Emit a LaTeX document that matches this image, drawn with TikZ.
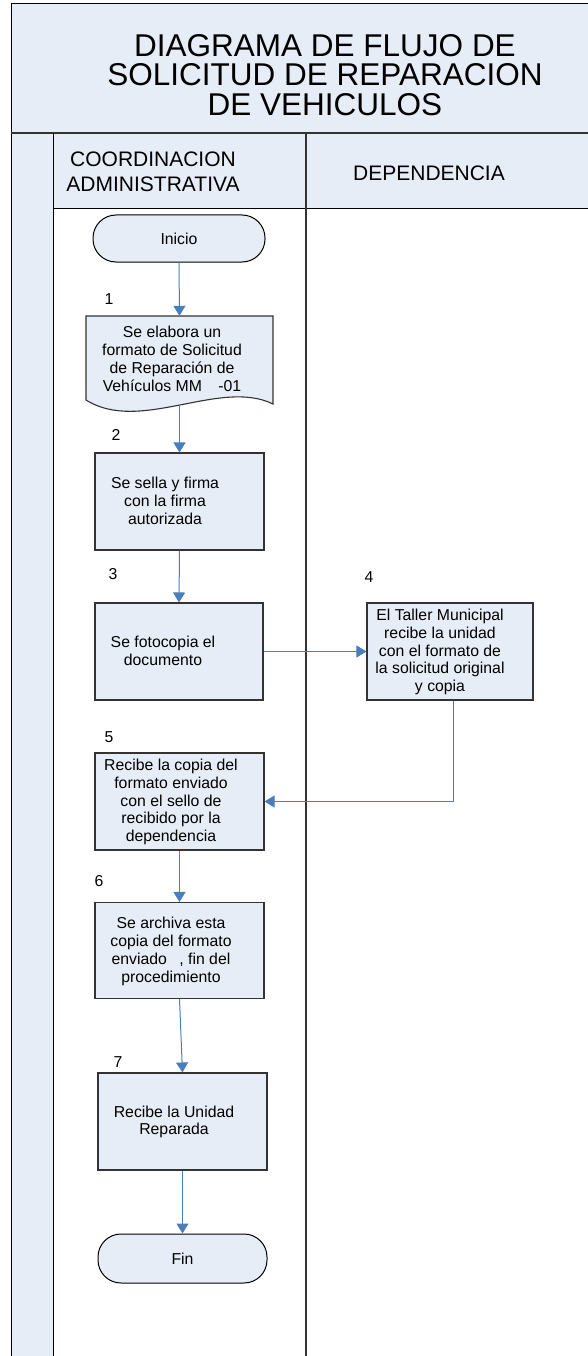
\documentclass[tikz,border=0pt]{standalone}
\usepackage{fontspec}
\setmainfont{Liberation Sans}
\usetikzlibrary{arrows.meta}
\definecolor{lb}{HTML}{E7EDF7}
\definecolor{ab}{HTML}{4A7EBB}
\definecolor{dg}{HTML}{333333}
\begin{document}
\begin{tikzpicture}[x=1pt,y=-1pt,
  proc/.style={draw=dg,line width=1.1pt,fill=lb,inner sep=0pt,minimum width=169pt,minimum height=97pt},
  term/.style={draw=black,line width=1pt,fill=lb,inner sep=0pt,rounded corners=23pt,font=\fontsize{15.8}{17.8}\selectfont},
  txt/.style={font=\fontsize{15.8}{17.8}\selectfont,align=center,inner sep=0pt},
  num/.style={font=\fontsize{15.8}{18}\selectfont,inner sep=0pt},
  hdr/.style={font=\fontsize{21}{25}\selectfont,align=center,inner sep=0pt},
  flow/.style={draw=ab,line width=1pt,-{Triangle[width=12pt,length=10pt]}}]
\useasboundingbox (0,0) rectangle (587,1356);
% background bands
\fill[lb] (11,4) rectangle (590,133);
\fill[lb] (11,133) rectangle (53,1360);
\fill[lb] (53,133) rectangle (590,209);
\draw[black,line width=1pt] (11,4) -- (590,4);
\draw[black,line width=1pt] (11,4) -- (11,1360);
\draw[dg,line width=2pt] (11,133) -- (590,133);
\draw[black,line width=1pt] (53,133) -- (53,1360);
\draw[black,line width=1pt] (53,209) -- (590,209);
\draw[dg,line width=1.6pt] (306,133) -- (306,1360);
% titles
\node[font=\fontsize{31.5}{29.5}\selectfont,align=center,inner sep=0pt] (title) at (325,75)
  {DIAGRAMA DE FLUJO DE\\SOLICITUD DE REPARACION\\DE VEHICULOS};
\node[hdr] (h1) at (153,172) {COORDINACION\\ADMINISTRATIVA};
\node[hdr] (h2) at (429,173) {DEPENDENCIA};
% shapes
\node[term,minimum width=172pt,minimum height=47pt] (ini) at (179,238.5) {Inicio};
\draw[dg,line width=1.1pt,fill=lb] (86,316) -- (273,316) -- (273,404)
  .. controls (220,378) and (140,434) .. (86,400) -- cycle;
\node[inner sep=0pt,minimum width=187pt,minimum height=90pt] (doc) at (179.5,361) {};
\node[txt] (t1) at (172,359) {Se elabora un\\formato de Solicitud\\de Reparación de\\Vehículos MM\hspace{12pt} -01};
\node[proc] (b2) at (179.5,501.5) {};
\node[txt] (t2) at (165,501) {Se sella y firma\\con la firma\\autorizada};
\node[proc,minimum width=168pt] (b3) at (179,651.5) {};
\node[txt] (t3) at (163,651) {Se fotocopia el\\documento};
\node[proc,minimum width=166pt] (b4) at (450,651.5) {};
\node[txt] (t4) at (440,652) {El Taller Municipal\\recibe la unidad\\con el formato de\\la solicitud original\\y copia};
\node[proc] (b5) at (179.5,801.5) {};
\node[txt] (t5) at (171,802) {Recibe la copia del\\formato enviado\\con el sello de\\recibido por la\\dependencia};
\node[proc,minimum height=96pt] (b6) at (179.5,950.5) {};
\node[txt] (t6) at (171,951.5) {Se archiva esta\\copia del formato\\enviado\hspace{8pt} , fin del\\procedimiento};
\node[proc] (b7) at (182.5,1121.5) {};
\node[txt] (t7) at (174,1122) {Recibe la Unidad\\Reparada};
\node[term,minimum width=169pt,minimum height=49pt] (fin) at (182.5,1258.5) {Fin};
% step numbers
\node[num] (n1) at (109,299) {1};
\node[num] (n2) at (116,435) {2};
\node[num] (n3) at (113,574) {3};
\node[num] (n4) at (369,577) {4};
\node[num] (n5) at (109,737) {5};
\node[num] (n6) at (99,881) {6};
\node[num] (n7) at (118,1062) {7};
% connectors
\draw[flow] (ini.south) -- (doc.north);
\draw[flow] (doc.south) -- (b2.north);
\draw[flow] (b2.south) -- (b3.north);
\draw[flow] (b3.east) -- (b4.west);
\draw[flow] ([xshift=3pt]b4.south) |- (b5.east);
\draw[flow] (b5.south) -- (b6.north);
\draw[flow] (b6.south) -- (b7.north);
\draw[flow] (b7.south) -- (fin.north);
\end{tikzpicture}
\end{document}
